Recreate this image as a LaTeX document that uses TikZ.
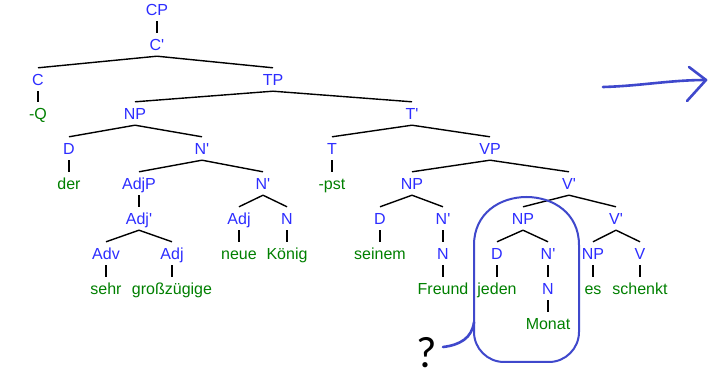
\documentclass[tikz,border=0pt]{standalone}
\usepackage{fontspec}
\setmainfont{Liberation Sans}[Ligatures=TeXOff]
\newfontfamily\qfont{Carlito}
\definecolor{lblue}{RGB}{45,45,255}
\definecolor{lgreen}{RGB}{0,128,0}
\definecolor{pen}{RGB}{63,72,204}
\tikzset{
  lab/.style={anchor=base,inner xsep=0pt,inner ysep=2pt,text height=16pt,text depth=3pt,
    font=\fontsize{16}{19}\selectfont},
  cat/.style={lab,text=lblue},
  word/.style={lab,text=lgreen},
  edge/.style={draw=black,line width=1.4pt},
  penline/.style={draw=pen,line width=2.6pt,line cap=round,line join=round}
}
\begin{document}
\begin{tikzpicture}[x=1pt,y=-1pt]
\useasboundingbox (0,0) rectangle (721,382);
\fill[white] (0,0) rectangle (721,382);
% nodes
\node[cat] (cp) at (157,16) {CP};
\node[cat] (c1) at (157,51) {C'};
\node[cat] (c) at (38,86) {C};
\node[word] (q) at (38,120) {-Q};
\node[cat] (tp) at (273,86) {TP};
\node[cat] (np1) at (135,120) {NP};
\node[cat] (t1) at (412,120) {T'};
\node[cat] (d1) at (69,155) {D};
\node[word] (der) at (69,190) {der};
\node[cat] (n1) at (202,155) {N'};
\node[cat] (adjp) at (139,190) {AdjP};
\node[cat] (adj1) at (139,225) {Adj'};
\node[cat] (adv) at (106,260) {Adv};
\node[word] (sehr) at (106,295) {sehr};
\node[cat] (adj2) at (172,260) {Adj};
\node[word] (gross) at (172,295) {großzügige};
\node[cat] (n2) at (263,190) {N'};
\node[cat] (adj3) at (239,225) {Adj};
\node[word] (neue) at (239,260) {neue};
\node[cat] (n3) at (287,225) {N};
\node[word] (koenig) at (287,260) {König};
\node[cat] (t) at (332,155) {T};
\node[word] (pst) at (332,190) {-pst};
\node[cat] (vp) at (490,155) {VP};
\node[cat] (np2) at (412,190) {NP};
\node[cat] (v1) at (569,190) {V'};
\node[cat] (d2) at (380,225) {D};
\node[word] (seinem) at (380,260) {seinem};
\node[cat] (n4) at (443,225) {N'};
\node[cat] (n5) at (443,260) {N};
\node[word] (freund) at (443,295) {Freund};
\node[cat] (np3) at (523,225) {NP};
\node[cat] (d3) at (497,260) {D};
\node[word] (jeden) at (497,295) {jeden};
\node[cat] (n6) at (548,260) {N'};
\node[cat] (n7) at (548,295) {N};
\node[word] (monat) at (548,330) {Monat};
\node[cat] (v2) at (616,225) {V'};
\node[cat] (np4) at (593,260) {NP};
\node[word] (es) at (593,295) {es};
\node[cat] (v) at (640,260) {V};
\node[word] (schenkt) at (640,295) {schenkt};
% edges
\foreach \p/\ch in {cp/c1,c1/c,c1/tp,c/q,tp/np1,tp/t1,np1/d1,np1/n1,d1/der,n1/adjp,n1/n2,
  adjp/adj1,adj1/adv,adj1/adj2,adv/sehr,adj2/gross,n2/adj3,n2/n3,adj3/neue,n3/koenig,
  t1/t,t1/vp,t/pst,vp/np2,vp/v1,np2/d2,np2/n4,d2/seinem,n4/n5,n5/freund,v1/np3,v1/v2,
  np3/d3,np3/n6,d3/jeden,n6/n7,n7/monat,v2/np4,v2/v,np4/es,v/schenkt}
  {\draw[edge] (\p.south) -- (\ch.north);}
% hand-drawn loop
\draw[penline,line width=2pt] (474,300) -- (474,245) .. controls (474,181) and (579,181) .. (579,245)
  -- (579,332) .. controls (579,348.5) and (565.5,362) .. (549,362)
  -- (504,362) .. controls (487.5,362) and (474,348.5) .. (474,332) -- cycle;
\node[anchor=base,inner sep=0pt,font=\qfont\fontsize{44}{50}\selectfont] (qm) at (427,367) {?};
\coordinate (qa) at (443,347);
\coordinate (qb) at (474,322);
\draw[penline] (qa) .. controls (460,345) and (472,338) .. (qb);
% arrow
\coordinate (a0) at (603,87);
\coordinate (a1) at (706,80);
\coordinate (h1) at (689,67);
\coordinate (h2) at (687,101);
\draw[penline] (a0) .. controls (640,86) and (670,80) .. (a1);
\draw[penline] (h1) -- (a1) -- (h2);
\end{tikzpicture}
\end{document}
